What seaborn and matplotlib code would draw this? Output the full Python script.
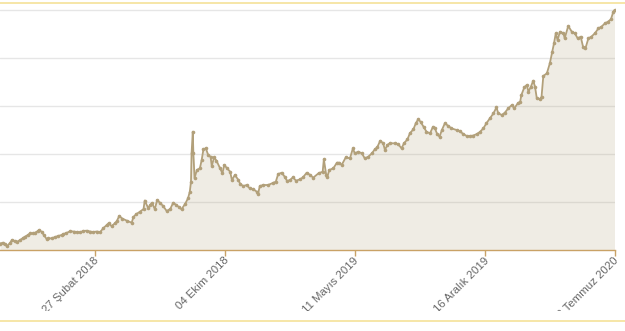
import numpy as np
import pandas as pd
import matplotlib
matplotlib.use("Agg")
import matplotlib.pyplot as plt
import seaborn as sns
from matplotlib.lines import Line2D
from matplotlib.transforms import Bbox, ScaledTranslation

# ---- data ----
start_date = "2017-09-20"
end_date = "2020-07-22"
# days elapsed since start_date
days = [0, 5, 8, 12, 17, 20, 25, 29, 34, 39, 42, 47, 51, 56, 59, 64, 66, 70, 74, 79,
        81, 87, 93, 98, 104, 107, 112, 118, 124, 129, 135, 140, 146, 152, 157, 163, 169, 174, 180, 183,
        188, 194, 197, 201, 206, 214, 222, 225, 230, 236, 242, 244, 250, 253, 256, 261, 265,
        270, 275, 281, 287, 292, 297, 301, 306, 312, 317, 320, 322, 323, 325, 326, 328, 332, 337,
        340, 343, 347, 351, 355, 357, 361, 365, 371, 375, 378, 383, 388, 391, 396, 402, 405, 410,
        416, 421, 427, 433, 435, 438, 444, 452, 461, 465, 469, 475, 480, 484, 489, 494, 499, 506,
        511, 517,
        523, 528, 537, 544, 546, 550, 552, 555, 562, 568, 572, 576, 583, 590, 595, 598, 604, 610,
        615, 621, 627, 632, 636, 641, 646, 649, 653, 657, 666, 671, 677, 681, 687, 691, 697, 701,
        705, 709, 714, 719, 725, 730, 733, 737, 741, 745, 750, 756, 761, 770,
        775, 781, 787, 792, 798, 804, 809, 815, 820, 826, 832, 837, 840, 846, 851, 857, 863, 867,
        873, 877, 879, 884, 888, 891, 895, 899, 902, 905, 910, 913, 916, 922, 927, 931, 934, 937,
        940, 944, 950, 952, 958, 964, 969, 974, 979, 983, 987, 992, 997, 1003, 1009, 1014, 1020,
        1025, 1030, 1034, 1036]
values = [13.5, 15.2, 11.5, 8.3, 14.6, 20.8, 18.8, 17.3, 20.8, 25.0, 27.7, 31.3, 34.8, 34.4, 36.0, 39.6, 41.7, 38.1, 31.3, 22.3,
          24.0, 24.4, 27.1, 29.2, 31.3, 33.3, 35.4, 39.0, 38.5, 37.5, 36.5, 39.6, 40.2, 38.5, 37.5, 38.5, 37.5, 45.2, 52.1, 55.6,
          50.0, 55.6, 60.4, 70.8, 65.6, 61.0, 56.9, 68.8, 75.0, 79.8, 85.4, 103.1, 86.9, 93.8, 97.9, 85.4, 104.2,
          97.9, 91.7, 81.3, 85.4, 98.5, 93.8, 90.2, 84.8, 95.8, 107.7, 121.5, 142.3, 201.5, 246.5, 202.1, 150.0, 166.7, 170.2,
          187.5, 209.8, 211.9, 197.9, 194.4, 175.0, 193.1, 186.0, 170.2, 159.8, 177.1, 170.2, 163.1, 145.8, 156.3, 145.8, 137.5, 133.3,
          135.4, 128.5, 126.5, 121.5, 116.7, 133.3, 135.4, 135.4, 140.2, 142.3, 158.3, 161.0, 152.7, 143.8, 145.8, 151.5, 144.4, 147.3,
          151.5, 161.0,
          156.3, 150.6, 159.8, 163.1, 189.0, 156.3, 152.7, 166.7, 170.2, 181.9, 181.9, 177.1, 193.1, 191.0, 211.9, 201.5, 204.8, 201.5,
          191.0, 194.4, 201.5, 209.8, 214.0, 227.7, 222.3, 208.3, 218.8, 222.3, 222.3, 220.8, 211.9, 222.3, 230.6, 243.1, 251.5, 264.0,
          272.3, 267.3, 256.9, 246.5, 243.1, 256.9, 254.2, 241.7, 236.0, 250.0, 264.0, 258.3, 253.5, 250.0,
          247.9, 241.7, 237.5, 237.5, 238.5, 241.7, 245.8, 253.5, 264.0, 274.4, 284.8, 297.3, 284.8, 281.3, 286.0, 295.2, 302.1, 295.2,
          305.6, 309.0, 322.9, 339.0, 343.7, 329.8, 340.2, 352.7, 340.2, 316.0, 314.0, 319.4, 362.5, 368.1, 389.0, 413.1, 430.6, 451.5,
          437.5, 454.8, 451.5, 441.0, 466.7, 454.8, 451.5, 441.0, 444.4, 423.5, 420.2, 441.0, 444.4, 451.5, 461.9, 465.2, 472.3,
          475.6, 480.6, 496.5, 500.0]

tick_dates = ["2018-02-27", "2018-10-04", "2019-05-11", "2019-12-16", "2020-07-22"]
tick_labels = ["27 Şubat 2018", "04 Ekim 2018", "11 Mayıs 2019", "16 Aralık 2019", "22 Temmuz 2020"]
grid_values = [100, 200, 300, 400, 500]

dates = pd.Timestamp(start_date) + pd.to_timedelta(days, unit="D")
df = pd.DataFrame({"date": dates, "value": values})

# ---- style ----
sns.set_theme(style="white")
plt.rcParams["font.family"] = ["Liberation Sans", "DejaVu Sans"]

LINE = "#b2a07a"
AXIS = "#c9a266"
W, H = 625, 331

fig = plt.figure(figsize=(W / 100, H / 100), dpi=100)
fig.patch.set_facecolor("white")
ax = fig.add_axes([0, (H - 250) / H, 614.5 / W, 242 / H])

ax.fill_between(df["date"], df["value"], 0, color=LINE, alpha=0.2, lw=0, zorder=1)
sns.lineplot(data=df, x="date", y="value", ax=ax, color=LINE, lw=1.3,
             marker="o", markersize=2.6, markeredgewidth=0, zorder=3)

ax.set_xlim(pd.Timestamp(start_date), pd.Timestamp(end_date))
ax.set_ylim(0, 504.2)
ax.set_yticks(grid_values)
ax.yaxis.grid(True, color="#e6e6e6", lw=1)
ax.xaxis.grid(False)
ax.set_axisbelow(True)
ax.tick_params(axis="y", left=False, labelleft=False)
ax.set_xlabel("")
ax.set_ylabel("")

for s in ["top", "left", "right"]:
    ax.spines[s].set_visible(False)
ax.spines["bottom"].set_color(AXIS)
ax.spines["bottom"].set_linewidth(1.0)

ax.set_xticks(pd.to_datetime(tick_dates))
ax.set_xticklabels(tick_labels, rotation=45, ha="right", va="center",
                   rotation_mode="anchor", fontsize=8.2, color="#666666")
ax.tick_params(axis="x", bottom=True, length=4.5, width=1, color=AXIS, pad=3)

offset = ScaledTranslation(2.5 / 100, 1.5 / 100, fig.dpi_scale_trans)
clip = Bbox.from_extents(0, H - 311, W, H)
for lbl in ax.get_xticklabels():
    lbl.set_transform(lbl.get_transform() + offset)
    lbl.set_clip_box(clip)
    lbl.set_clip_on(True)

# pale yellow frame lines
BORDER = "#f6e4a0"
fig.add_artist(Line2D([0, 1], [1 - 2.5 / H] * 2, transform=fig.transFigure, color=BORDER, lw=1.3))
fig.add_artist(Line2D([0, 1], [1 - 320.5 / H] * 2, transform=fig.transFigure, color=BORDER, lw=1.3))

fig.savefig("out.png", dpi=100, facecolor="white")
